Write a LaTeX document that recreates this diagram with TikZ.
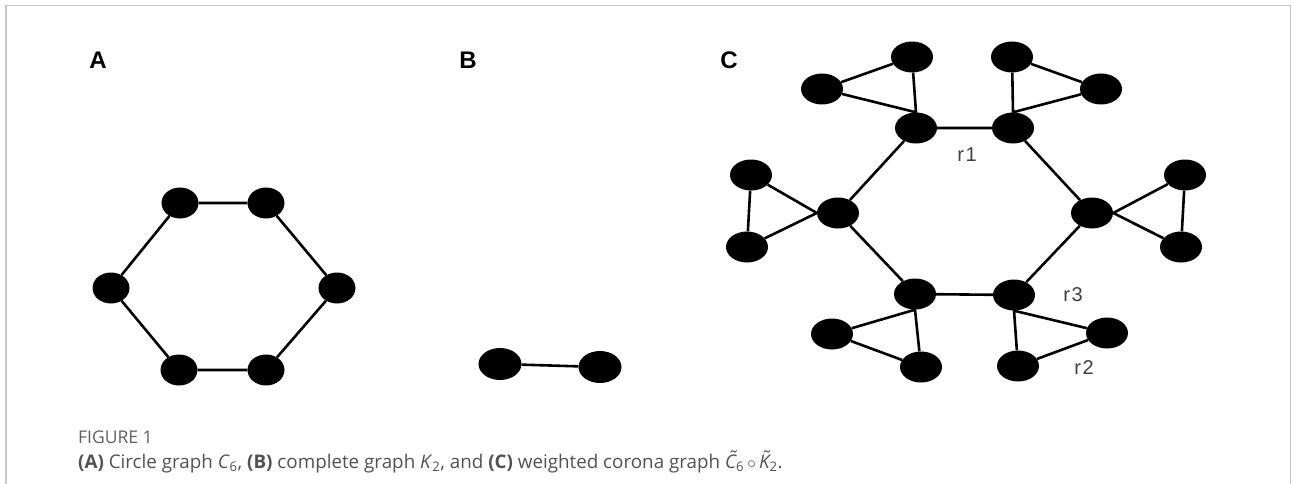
\documentclass[tikz,border=0pt]{standalone}
\usepackage{fontspec}
\setmainfont{Liberation Sans}
\newfontfamily\capfont{Open Sans}
\usetikzlibrary{shapes.geometric}
\pgfdeclarelayer{edges}
\pgfsetlayers{edges,main}
\begin{document}
\begin{tikzpicture}[x=1pt,y=-1pt,
  vtx/.style={ellipse,fill=black,inner sep=0pt,minimum width=42pt,minimum height=31pt},
  vtxA/.style={vtx,minimum width=37pt,minimum height=31pt},
  vtxB/.style={vtx,minimum width=43pt,minimum height=32pt},
  edge/.style={line width=2.6pt,black},
  panel/.style={font=\bfseries\fontsize{24}{24}\selectfont},
  wlabel/.style={text=black!75,font=\fontsize{20}{20}\selectfont},
  figtitle/.style={anchor=base west,inner sep=0pt,text=black!62,font=\capfont\fontsize{17.5}{17.5}\selectfont},
  figcap/.style={anchor=base west,inner sep=0pt,text=black!68,font=\capfont\fontsize{18.8}{18.8}\selectfont}
]
\useasboundingbox (0,0) rectangle (1292,484);
\begin{pgfonlayer}{edges}
\fill[white] (0,0) rectangle (1292,484);
\end{pgfonlayer}
% frame
\draw[black!22,line width=1.6pt] (6,484) -- (6,5.5) -- (1290.5,5.5) -- (1290.5,484);

% panel labels
\node[panel] (labA) at (98,60) {A};
\node[panel] (labB) at (468,60) {B};
\node[panel] (labC) at (729,60) {C};

% (A) cycle C6
\node[vtxA] (a1) at (180,203) {};
\node[vtxA] (a2) at (266,203) {};
\node[vtxA] (a3) at (337,288) {};
\node[vtxA] (a4) at (266,370) {};
\node[vtxA] (a5) at (179,370) {};
\node[vtxA] (a6) at (111,288) {};
\begin{pgfonlayer}{edges}
\draw[edge] (a1) -- (a2) -- (a3) -- (a4) -- (a5) -- (a6) -- (a1);
\end{pgfonlayer}

% (B) complete graph K2
\node[vtxB] (b1) at (500,364) {};
\node[vtxB] (b2) at (600,367) {};
\begin{pgfonlayer}{edges}
\draw[edge] (b1) -- (b2);
\end{pgfonlayer}

% (C) corona graph: hexagon
\node[vtx] (h1) at (916,128) {};
\node[vtx] (h2) at (1013,128) {};
\node[vtx] (h3) at (1092,213) {};
\node[vtx] (h4) at (1014,295) {};
\node[vtx] (h5) at (915,294) {};
\node[vtx] (h6) at (838,213) {};
% attached copies of K2
\node[vtx] (p1) at (912,57) {};
\node[vtx] (q1) at (822,89) {};
\node[vtx] (p2) at (1012,57) {};
\node[vtx] (q2) at (1101,89) {};
\node[vtx] (p3) at (1185,175) {};
\node[vtx] (q3) at (1181,247) {};
\node[vtx] (p4) at (1107,333) {};
\node[vtx] (q4) at (1018,366) {};
\node[vtx] (p5) at (921,367) {};
\node[vtx] (q5) at (832,334) {};
\node[vtx] (p6) at (751,175) {};
\node[vtx] (q6) at (747,247) {};
\begin{pgfonlayer}{edges}
\draw[edge] (h1) -- (h2) -- (h3) -- (h4) -- (h5) -- (h6) -- (h1);
\draw[edge] (p1) -- (q1) -- (h1.north) -- (p1);
\draw[edge] (p2) -- (q2) -- (h2.north) -- (p2);
\draw[edge] (p3) -- (q3) -- (h3.east) -- (p3);
\draw[edge] (p4) -- (q4) -- (h4.south) -- (p4);
\draw[edge] (p5) -- (q5) -- (h5.south) -- (p5);
\draw[edge] (p6) -- (q6) -- (h6.west) -- (p6);
\end{pgfonlayer}

% weights
\node[wlabel] (r1) at (967,155) {r\kern1.5pt1};
\node[wlabel] (r3) at (1073,295) {r\kern1.5pt3};
\node[wlabel] (r2) at (1084,368) {r\kern1.5pt2};

% caption
\node[figtitle] (fig) at (78,443) {FIGURE 1};
\node[figcap] (cap) at (78,468) {\textbf{(A)} Circle graph \textit{C}\textsubscript{6}, \textbf{(B)} complete graph \textit{K}\textsubscript{2}, and \textbf{(C)} weighted corona graph \textit{\~C}\textsubscript{6}\,$\circ$\,\textit{\~K}\textsubscript{2}.};
\end{tikzpicture}
\end{document}
